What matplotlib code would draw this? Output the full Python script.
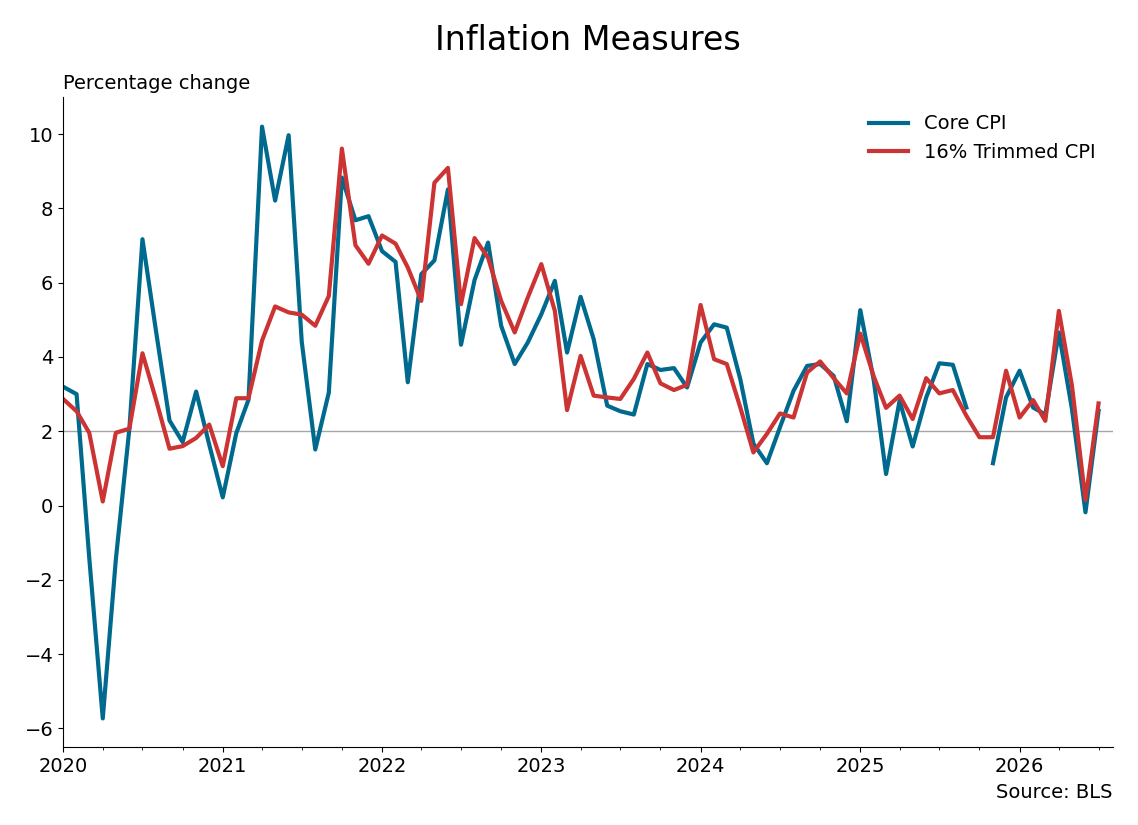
import numpy as np
import pandas as pd
import matplotlib
matplotlib.use('Agg')
import matplotlib.pyplot as plt
import matplotlib.dates as mdates

# monthly readings, Jan 2020 - Jul 2026
months = pd.date_range('2020-01-01', '2026-07-01', freq='MS')

core_cpi = [
    3.2, 3.0, -1.4, -5.73, -1.45, 2.07, 7.17, 4.7, 2.29, 1.71, 3.07, 1.64,
    0.22, 1.95, 2.85, 10.2, 8.21, 9.97, 4.41, 1.51, 3.04, 8.83, 7.68, 7.79,
    6.85, 6.56, 3.32, 6.23, 6.60, 8.51, 4.33, 6.07, 7.08, 4.84, 3.81, 4.39,
    5.15, 6.05, 4.12, 5.62, 4.48, 2.69, 2.54, 2.45, 3.81, 3.65, 3.70, 3.18,
    4.39, 4.88, 4.79, 3.4, 1.67, 1.14, 2.11, 3.09, 3.76, 3.81, 3.49, 2.27,
    5.26, 3.36, 0.85, 2.82, 1.59, 2.91, 3.83, 3.79, 2.64, np.nan, 1.14, 2.91,
    3.63, 2.64, 2.45, 4.66, 2.6, -0.18, 2.55,
]

trimmed_cpi = [
    2.87, 2.54, 1.96, 0.11, 1.96, 2.07, 4.10, 2.85, 1.53, 1.60, 1.82, 2.18,
    1.06, 2.89, 2.89, 4.44, 5.36, 5.20, 5.14, 4.84, 5.64, 9.61, 7.01, 6.51,
    7.27, 7.05, 6.41, 5.51, 8.69, 9.09, 5.42, 7.20, 6.67, 5.51, 4.66, 5.60,
    6.50, 5.24, 2.57, 4.03, 2.96, 2.91, 2.87, 3.41, 4.12, 3.29, 3.11, 3.25,
    5.40, 3.94, 3.81, 2.64, 1.43, 1.93, 2.48, 2.37, 3.58, 3.88, 3.43, 3.02,
    4.63, 3.47, 2.63, 2.96, 2.33, 3.43, 3.02, 3.11, 2.42, 1.84, 1.84, 3.63,
    2.37, 2.84, 2.28, 5.24, 3.23, 0.15, 2.75,
]

target = 2.0

fig = plt.figure(figsize=(11.38, 8.25), dpi=100)
ax = fig.add_axes([0.0554, 0.0945, 0.9226, 0.788])

ax.axhline(target, color='#a6a6a6', lw=1, zorder=1)
ax.plot(months, core_cpi, color='#006a8e', lw=3, label='Core CPI')
ax.plot(months, trimmed_cpi, color='#cc3333', lw=3, label='16% Trimmed CPI')

ax.set_xlim(pd.Timestamp('2020-01-01'), pd.Timestamp('2026-08-03'))
ax.set_ylim(-6.5, 11)
ax.set_yticks(np.arange(-6, 11, 2))

ax.xaxis.set_major_locator(mdates.YearLocator())
ax.xaxis.set_major_formatter(mdates.DateFormatter('%Y'))
ax.xaxis.set_minor_locator(mdates.MonthLocator(bymonth=[1, 4, 7, 10]))
ax.tick_params(axis='both', which='major', labelsize=14)

ax.spines['top'].set_visible(False)
ax.spines['right'].set_visible(False)

ax.legend(loc='upper right', frameon=False, fontsize=14)

fig.suptitle('Inflation Measures', fontsize=24, x=0.517, y=0.971)
ax.set_title('Percentage change', loc='left', fontsize=14, pad=6)
ax.text(1.0, -0.056, 'Source: BLS', transform=ax.transAxes, ha='right',
        va='top', fontsize=14)

fig.savefig('out.png', dpi=100)
